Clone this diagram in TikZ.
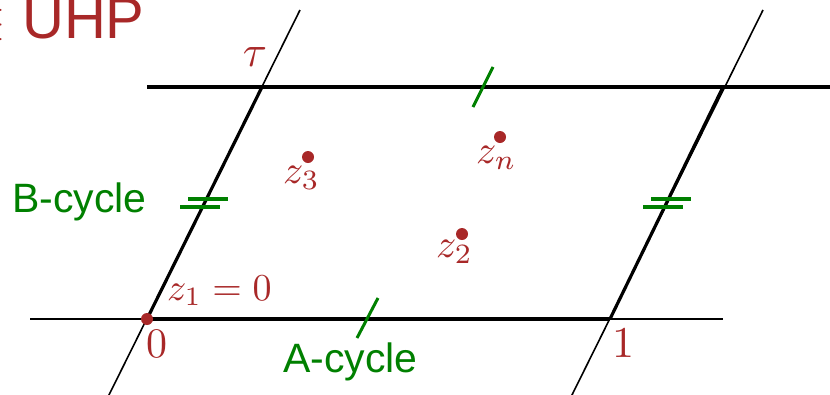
\documentclass[tikz,border=0pt]{standalone}
\usepackage{graphicx}
\usepackage{fontspec}
\newfontfamily\labelsans{Liberation Sans}
\definecolor{ptred}{RGB}{168,40,40}
\definecolor{cycgreen}{RGB}{0,128,0}
\newcommand{\mysc}[1]{\scalebox{4}{#1}}
\tikzset{
  thinline/.style={line width=1.6pt, black},
  thickline/.style={line width=3.2pt, black},
  pt/.style={circle, fill=ptred, inner sep=0pt, minimum size=12pt},
  mlabel/.style={text=ptred, inner sep=0pt},
  cyclabel/.style={text=cycgreen, inner sep=0pt, font=\labelsans\fontsize{41}{48}\selectfont},
  atick/.style={cycgreen, line width=3pt},
  btick/.style={cycgreen, line width=4pt}
}
\begin{document}
\begin{tikzpicture}[x=1pt,y=-1pt]
\useasboundingbox (0,0) rectangle (830,394);
\clip (0,0) rectangle (830,394);
% lattice corners
\coordinate (O) at (147,319);
\coordinate (One) at (610,319);
\coordinate (Tau) at (262,87);
\coordinate (TauOne) at (723,87);
% free ends
\coordinate (bl) at (30,319);
\coordinate (br) at (723,319);
\coordinate (tl) at (147,87);
\coordinate (tr) at (830,87);
\coordinate (ll) at (106,401);
\coordinate (lu) at (300,10);
\coordinate (rl) at (569,401);
\coordinate (ru) at (763,10);
% thin extended lines
\draw[thinline] (bl) -- (br);
\draw[thinline] (ll) -- (lu);
\draw[thinline] (rl) -- (ru);
% thick fundamental domain
\draw[thickline] (O) -- (One);
\draw[thickline] (tl) -- (tr);
\draw[thickline] (O) -- (Tau);
\draw[thickline] (One) -- (TauOne);
% A-cycle ticks
\coordinate (a1s) at (357,338); \coordinate (a1e) at (378,298);
\coordinate (a2s) at (473,107); \coordinate (a2e) at (493,67);
\draw[atick] (a1s) -- (a1e);
\draw[atick] (a2s) -- (a2e);
% B-cycle ticks
\coordinate (b1s) at (188,199); \coordinate (b1e) at (228,199);
\coordinate (b2s) at (180,207); \coordinate (b2e) at (220,207);
\coordinate (b3s) at (651,199); \coordinate (b3e) at (691,199);
\coordinate (b4s) at (643,207); \coordinate (b4e) at (683,207);
\draw[btick] (b1s) -- (b1e);
\draw[btick] (b2s) -- (b2e);
\draw[btick] (b3s) -- (b3e);
\draw[btick] (b4s) -- (b4e);
% points
\node[pt] (z1) at (O) {};
\node[pt] (z3) at (308,157) {};
\node[pt] (zn) at (500,137) {};
\node[pt] (z2) at (462,234) {};
% labels
\node[mlabel, anchor=base west] (lz1) at (167,300) {\scalebox{3.8}{$z_1=0$}};
\node[mlabel, anchor=base west] (lz3) at (283,183) {\mysc{$z_3$}};
\node[mlabel, anchor=base west] (lzn) at (476,163) {\mysc{$z_n$}};
\node[mlabel, anchor=base west] (lz2) at (436,257) {\mysc{$z_2$}};
\node[mlabel] (ltau) at (255,57) {\scalebox{4.4}{$\tau$}};
\node[mlabel, anchor=base west] (l0) at (146,357) {\scalebox{4.2}{$0$}};
\node[mlabel, anchor=base west] (l1) at (612,357) {\scalebox{4.4}{$1$}};
\node[cyclabel, anchor=base west] (lb) at (12,212) {B-cycle};
\node[cyclabel, anchor=base west] (la) at (283,372) {A-cycle};
\node[mlabel, anchor=base east] (inm) at (7,38) {\scalebox{5.4}{$\in$}};
\node[text=ptred, inner sep=0pt, anchor=base west, font=\labelsans\fontsize{58}{66}\selectfont] (uhp) at (22,38) {UHP};
\end{tikzpicture}
\end{document}
